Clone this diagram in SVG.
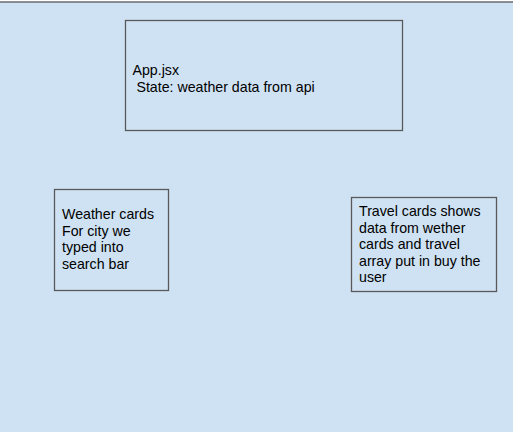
<svg xmlns="http://www.w3.org/2000/svg" width="513" height="439" viewBox="0 0 513 439">
<style>
.box{fill:none;stroke:#595959;stroke-width:1.3}
.t{font-family:"Liberation Sans",Arial,sans-serif;font-size:14.2px;fill:#000}
</style>
<rect x="0" y="0" width="513" height="439" fill="#ffffff"/>
<rect x="0" y="2" width="513" height="430" fill="#cfe2f3"/>
<line x1="0" y1="2" x2="513" y2="2" stroke="#6b6b6b" stroke-width="1.5"/>
<g id="connectors"></g>
<g id="app">
<rect class="box" x="125.5" y="20.5" width="277" height="110"/>
<text class="t" x="132.5" y="74.5">App.jsx</text>
<text class="t" x="132.5" y="91.5" xml:space="preserve"> State: weather data from api</text>
</g>
<g id="weather">
<rect class="box" x="54.5" y="189.5" width="114" height="101"/>
<text class="t"><tspan x="62" y="219">Weather cards</tspan><tspan x="62" y="235.5">For city we</tspan><tspan x="62" y="252">typed into</tspan><tspan x="62" y="268.5">search bar</tspan></text>
</g>
<g id="travel">
<rect class="box" x="351.5" y="197.5" width="145" height="94"/>
<text class="t"><tspan x="359" y="216">Travel cards shows</tspan><tspan x="359" y="232.5">data from wether</tspan><tspan x="359" y="249">cards and travel</tspan><tspan x="359" y="265.5">array put in buy the</tspan><tspan x="359" y="282">user</tspan></text>
</g>
</svg>
